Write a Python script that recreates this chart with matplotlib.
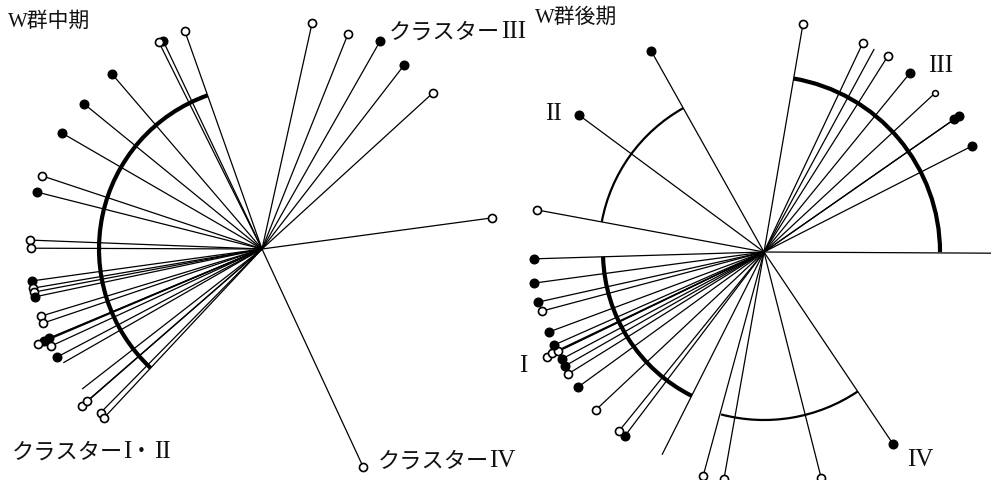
import numpy as np
import matplotlib
matplotlib.use('Agg')
import matplotlib.pyplot as plt
from matplotlib.patches import Arc

# ---------------- data ----------------
# W群中期 (left panel): direction (deg), length, marker ('o' open, 'f' filled, '' none)
mid_angles = [77.5, 68.2, 60.4, 52.3, 42.4, 7.7, 294.9,
              109.5, 115.4, 116.5, 130.6, 140.8, 149.9, 161.6, 165.8,
              177.8, 179.8, 187.9, 189.7, 190.7, 191.9, 196.9, 198.7,
              202.7, 202.8, 203.0, 204.7, 207.8, 209.8, 217.9, 221.1,
              221.0, 225.4, 226.9]
mid_lengths = [231, 232, 239, 232, 231, 232, 240,
               231, 230, 231, 230, 230, 231, 232, 232,
               232, 231, 232, 232, 232, 232, 231, 231,
               231, 237, 243, 232, 232, 229, 228, 239,
               232, 230, 231]
mid_markers = ['o', 'o', 'f', 'f', 'o', 'o', 'o',
               'o', 'f', 'o', 'f', 'f', 'f', 'o', 'f',
               'o', 'o', 'f', 'o', 'o', 'f', 'o', 'o',
               'f', 'f', 'o', 'o', 'f', '', '', 'o',
               'o', 'o', 'o']
mid_arc_radius = [163]
mid_arc_start = [109.5]
mid_arc_end = [226.9]
mid_arc_weight = ['thick']

# W群後期 (right panel)
late_angles = [80.3, 64.7, 61.5, 57.7, 50.8, 42.9, 34.9, 34.9, 27.0, -0.3,
               303.9, 284.2, 260.0, 254.8, 243.3, 232.9, 231.0, 223.2,
               216.0, 211.9, 209.8, 207.9, 205.8, 205.5, 205.7, 203.9,
               200.4, 194.9, 192.5, 187.7, 181.7, 169.5, 143.5, 119.3]
late_lengths = [231, 231, 231, 232, 231, 234, 232, 238, 233, 240,
                231, 233, 230, 232, 227, 231, 230, 231,
                230, 231, 229, 229, 241, 235, 229, 230,
                229, 230, 231, 232, 230, 231, 230, 231]
late_markers = ['o', 'o', '', 'o', 'f', 's', 'f', 'f', 'f', '',
                'f', 'o', 'o', 'o', '', 'f', 'o', 'o',
                'f', 'o', 'f', 'f', 'o', 'o', 'o', 'f',
                'f', 'o', 'f', 'f', 'f', 'o', 'f', 'f']
late_arc_radius = [165, 176, 161, 168]
late_arc_start = [119.3, 0.0, 181.7, 255.2]
late_arc_end = [169.5, 80.3, 243.3, 303.9]
late_arc_weight = ['thin', 'thick', 'thick', 'thin']

# labels: (text, x, y, size) relative to each panel's centre, y up, left-aligned
mid_labels = [('W群中期', -254, 228, 15),
              ('クラスター', 127, 218, 16), ('III', 239, 218, 18),
              ('クラスター', 116, -211, 16), ('IV', 227, -211, 18),
              ('クラスター', -250, -202, 16), ('I', -139, -202, 18),
              ('・', -131, -202, 15), ('II', -108, -202, 18)]
late_labels = [('W群後期', -229, 235, 15),
               ('II', -219, 139, 18),
               ('III', 164, 187, 18),
               ('I', -245, -113, 18),
               ('IV', 143, -207, 18)]

FAM = ['Liberation Serif', 'Noto Sans CJK JP', 'DejaVu Sans']
CJK = ['Noto Sans CJK JP', 'DejaVu Sans']

W, H = 991, 481
fig = plt.figure(figsize=(W / 100, H / 100), dpi=100)
fig.patch.set_facecolor('white')


def panel(rect, cx, cy, left_px, right_px, angles, lengths, markers,
          arc_r, arc_s, arc_e, arc_w, labels):
    ax = fig.add_axes(rect)
    ax.set_xlim(left_px - cx, right_px - cx)
    ax.set_ylim(-(H - cy), cy)
    ax.axis('off')
    a = np.deg2rad(np.array(angles))
    L = np.array(lengths, dtype=float)
    xs = L * np.cos(a)
    ys = L * np.sin(a)
    for x, y in zip(xs, ys):
        ax.plot([0, x], [0, y], color='black', lw=0.9, solid_capstyle='butt', zorder=2)
    for x, y, m in zip(xs, ys, markers):
        if m == 'f':
            ax.plot(x, y, 'o', ms=6.2, mfc='black', mec='black', mew=1.0, zorder=4)
        elif m == 'o':
            ax.plot(x, y, 'o', ms=5.8, mfc='white', mec='black', mew=1.2, zorder=4)
        elif m == 's':
            ax.plot(x, y, 'o', ms=4.2, mfc='white', mec='black', mew=1.1, zorder=4)
    for r, s, e, w in zip(arc_r, arc_s, arc_e, arc_w):
        lw = 3.0 if w == 'thick' else 1.6
        ax.add_patch(Arc((0, 0), 2 * r, 2 * r, theta1=s, theta2=e,
                         lw=lw, color='black', zorder=3))
    for t, x, y, fs in labels:
        fam = FAM if (t.isascii() or t.startswith('W')) else CJK
        ax.text(x, y, t, ha='left', va='center', fontsize=fs, family=fam,
                color='#111111', clip_on=False, zorder=5)
    return ax


panel([0, 0, 500 / W, 1], 262, 250, 0, 500,
      mid_angles, mid_lengths, mid_markers,
      mid_arc_radius, mid_arc_start, mid_arc_end, mid_arc_weight, mid_labels)
panel([500 / W, 0, (W - 500) / W, 1], 764, 253, 500, W,
      late_angles, late_lengths, late_markers,
      late_arc_radius, late_arc_start, late_arc_end, late_arc_weight, late_labels)

fig.savefig('out.png', dpi=100, facecolor='white')
